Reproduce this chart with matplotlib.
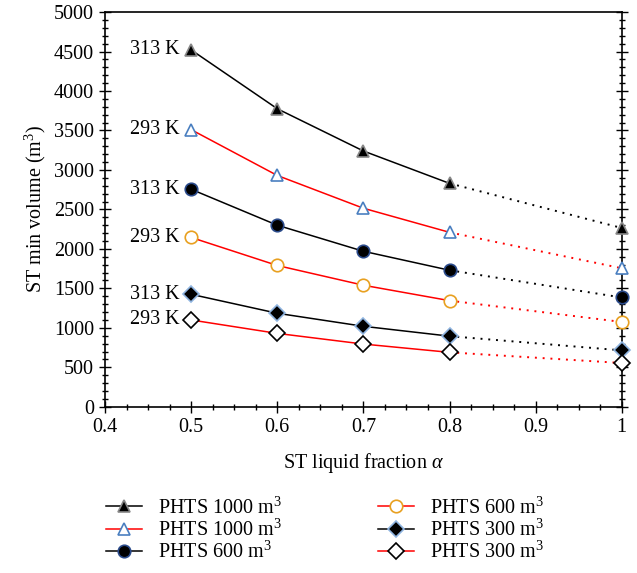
import numpy as np
import matplotlib
matplotlib.use("Agg")
import matplotlib.pyplot as plt
from matplotlib.ticker import MultipleLocator

plt.rcParams['font.family'] = ['Liberation Serif', 'DejaVu Serif']
plt.rcParams['mathtext.fontset'] = 'custom'
plt.rcParams['mathtext.rm'] = 'Liberation Serif'
plt.rcParams['mathtext.it'] = 'Liberation Serif:italic'

# data
alpha = [0.5, 0.6, 0.7, 0.8, 1.0]
v313_1000 = [4520, 3775, 3240, 2830, 2265]
v293_1000 = [3510, 2930, 2515, 2210, 1755]
v313_600 = [2755, 2300, 1970, 1730, 1385]
v293_600 = [2145, 1790, 1540, 1345, 1075]
v313_300 = [1425, 1185, 1020, 895, 715]
v293_300 = [1100, 930, 795, 690, 555]

labels = ["PHTS 1000 m$^3$", "PHTS 1000 m$^3$", "PHTS 600 m$^3$",
          "PHTS 600 m$^3$", "PHTS 300 m$^3$", "PHTS 300 m$^3$"]
temps = ["313 K", "293 K", "313 K", "293 K", "313 K", "293 K"]

series = [v313_1000, v293_1000, v313_600, v293_600, v313_300, v293_300]
line_cols = ["black", "red", "black", "red", "black", "red"]
markers = ["^", "^", "o", "o", "D", "D"]
faces = ["black", "white", "black", "white", "black", "white"]
edges = ["#888888", "#4a7fc0", "#2a4a8a", "#e8a020", "#8fb4e0", "black"]
msizes = [8, 9, 9, 9, 8, 8]

fs = 14.5

fig = plt.figure(figsize=(6.37, 5.73), dpi=100)
ax = fig.add_axes([0.165, 0.29, 0.811, 0.689])

handles = []
for i, ys in enumerate(series):
    # solid part 0.5-0.8, dotted part 0.8-1.0
    ax.plot(alpha[:4], ys[:4], color=line_cols[i], lw=1.1, zorder=2)
    ax.plot(alpha[3:], ys[3:], color=line_cols[i], lw=1.4, ls=(0, (1, 3)), zorder=2)
    ax.plot(alpha, ys, ls='none', marker=markers[i], ms=msizes[i],
            mfc=faces[i], mec=edges[i], mew=1.2, zorder=3, clip_on=False)
    h, = ax.plot([], [], color=line_cols[i], lw=1.1, marker=markers[i],
                 ms=msizes[i], mfc=faces[i], mec=edges[i], mew=1.2)
    handles.append(h)
    ax.text(0.487, ys[0], temps[i], ha='right', va='center', fontsize=fs)

ax.set_xlim(0.4, 1.0)
ax.set_ylim(0, 5000)
ax.xaxis.set_major_locator(MultipleLocator(0.1))
ax.xaxis.set_minor_locator(MultipleLocator(0.025))
ax.yaxis.set_major_locator(MultipleLocator(500))
ax.yaxis.set_minor_locator(MultipleLocator(100))
ax.set_xticks([0.4, 0.5, 0.6, 0.7, 0.8, 0.9, 1.0])
ax.set_xticklabels(["0.4", "0.5", "0.6", "0.7", "0.8", "0.9", "1"])
ax.tick_params(which='both', direction='inout', right=True, labelsize=fs)
ax.tick_params(which='major', length=9, width=1)
ax.tick_params(which='minor', length=5, width=1)
for s in ax.spines.values():
    s.set_linewidth(1.2)

ax.set_xlabel(r"ST liquid fraction $\alpha$", fontsize=fs, labelpad=10)
ax.set_ylabel("ST min volume (m$^3$)", fontsize=fs, labelpad=4)

fig.legend(handles, labels, ncol=2, loc='lower center',
           bbox_to_anchor=(0.51, -0.014), frameon=False, fontsize=fs,
           handlelength=1.8, columnspacing=4.8, labelspacing=0.05,
           handletextpad=0.75)

fig.savefig("out.png", dpi=100)
